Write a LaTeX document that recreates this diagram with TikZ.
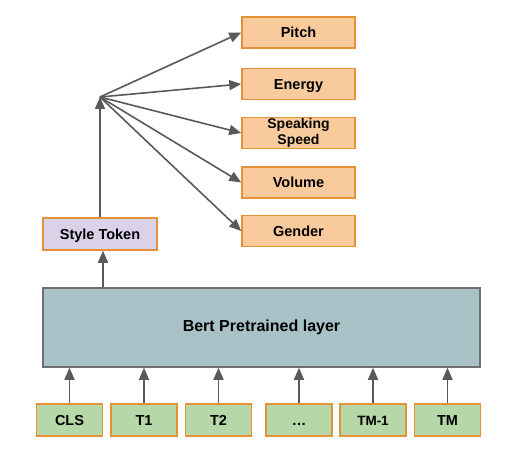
\documentclass[tikz,border=0pt]{standalone}
\usepackage{fontspec}
\setmainfont{Liberation Sans}
\usetikzlibrary{arrows.meta}

\definecolor{attrfill}{HTML}{F9CB9C}
\definecolor{boxedge}{HTML}{E69138}
\definecolor{tokfill}{HTML}{B6D7A8}
\definecolor{stylefill}{HTML}{D9D2E9}
\definecolor{bertfill}{HTML}{A9C2C7}
\definecolor{bertedge}{HTML}{6E6E6E}
\definecolor{arrgray}{HTML}{595959}

\begin{document}
\begin{tikzpicture}[x=1pt, y=-1pt,
    box/.style = {draw = boxedge, line width = 1.5pt, inner sep = 0pt, align = center,
                  text height = 10.5pt, text depth = 0pt,
                  font = \bfseries\fontsize{14.5}{15}\selectfont},
    attr/.style = {box, fill = attrfill, minimum width = 113pt, minimum height = 31pt},
    tok/.style = {box, fill = tokfill, minimum width = 66pt, minimum height = 32pt},
    arr/.style = {draw = arrgray, line width = 1.6pt,
                  -{Triangle[length = 12pt, width = 10pt]}}]
    \useasboundingbox (0,0) rectangle (524,468);

    % 属性
    \node[attr](pitch)at(298.5,32.5){Pitch};
    \node[attr](energy)at(298.5,84){Energy};
    \node[attr, text height = {}, text depth = {},
          font = \bfseries\fontsize{14}{16}\selectfont](speed)at(298.5,133){Speaking\\Speed};
    \node[attr](volume)at(298.5,182.5){Volume};
    \node[attr](gender)at(298.5,231){Gender};

    % Style Token
    \node[box, fill = stylefill, minimum width = 114pt, minimum height = 32pt](style)at(100,234){Style Token};
    \coordinate(hub)at(100,97);

    % BERT
    \node[draw = bertedge, line width = 1.5pt, fill = bertfill, minimum width = 437pt, minimum height = 79pt,
          font = \bfseries\fontsize{16}{17}\selectfont](bert)at(261.5,327.5){Bert Pretrained layer};

    % 入力トークン
    \node[tok](cls)at(69.5,420){CLS};
    \node[tok](t1)at(144,420){T1};
    \node[tok](t2)at(218.5,420){T2};
    \node[tok](dots)at(299,420){\dots};
    \node[tok, font = \bfseries\fontsize{13.5}{14}\selectfont](tm1)at(373,420){TM-1};
    \node[tok](tm)at(447.5,420){TM};

    % arrows
    \foreach \t in {cls,t1,t2,dots,tm1,tm}
        \path[arr](\t.north)to(\t.north |- bert.south);
    \path[arr]([xshift=3pt]bert.north -| style.south)to([xshift=3pt]style.south);
    \path[arr](style.north)to(hub);
    \foreach \a in {pitch,energy,speed,volume,gender}
        \path[arr](hub)to(\a.west);
\end{tikzpicture}
\end{document}
